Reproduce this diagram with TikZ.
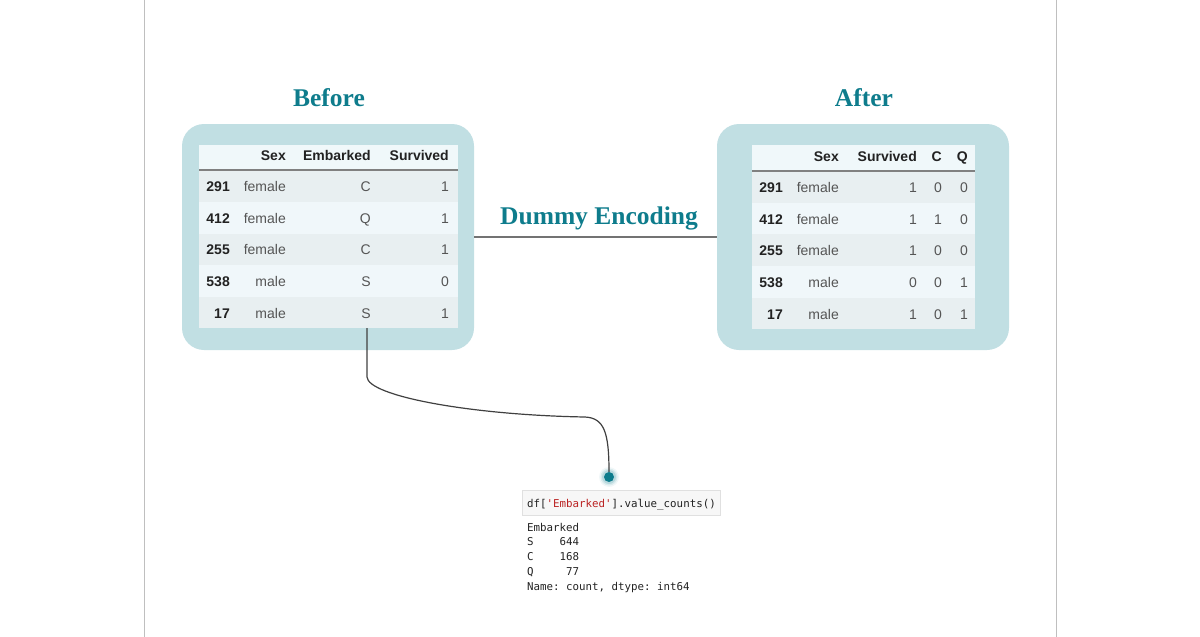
\documentclass[tikz,border=0pt]{standalone}
\usepackage{fontspec}
\setmainfont{Liberation Sans}
\newfontfamily\titlefont{Liberation Serif}
\newfontfamily\codefont{DejaVu Sans Mono}
\definecolor{teal1}{HTML}{0E7C8C}
\definecolor{framec}{HTML}{C1DFE3}
\definecolor{hdrbg}{HTML}{F0F8FA}
\definecolor{rowA}{HTML}{E8EFF1}
\definecolor{rowB}{HTML}{F0F7FA}
\definecolor{txtdark}{HTML}{222222}
\definecolor{txtgray}{HTML}{555555}
\definecolor{codered}{HTML}{BA2121}
\definecolor{codebg}{HTML}{F7F7F7}
\definecolor{codeborder}{HTML}{E0E0E0}
\tikzset{
  frame/.style={fill=framec, rounded corners=22pt, inner sep=0pt},
  title/.style={text=teal1, font=\titlefont\bfseries\fontsize{25.5}{28}\selectfont},
  hdr/.style={anchor=mid east, inner sep=0pt, text=txtdark, font=\bfseries\fontsize{14}{16}\selectfont},
  idx/.style={anchor=mid east, inner sep=0pt, text=txtdark, font=\bfseries\fontsize{14}{16}\selectfont},
  val/.style={anchor=mid east, inner sep=0pt, text=txtgray, font=\fontsize{14}{16}\selectfont},
  code/.style={anchor=base west, inner sep=0pt, text=txtdark, font=\codefont\fontsize{10.8}{13}\selectfont\frenchspacing},
  conn/.style={draw=black!75, line width=1.2pt},
  link/.style={draw=black!55, line width=2pt},
}
\begin{document}
\begin{tikzpicture}[x=1pt,y=-1pt]
\useasboundingbox (0,0) rectangle (1200,637);
% side rules
\draw[black!25, line width=1.5pt] (144.5,0) -- (144.5,637);
\draw[black!25, line width=1.5pt] (1056.5,0) -- (1056.5,637);

% titles
\node[title] (tBefore) at (329,97.5) {Before};
\node[title] (tAfter) at (864,97.5) {After};

% frames
\node[frame, minimum width=292pt, minimum height=226pt] (Lf) at (328,237) {};
\node[frame, minimum width=292pt, minimum height=226pt] (Rf) at (863,237) {};

% connector between frames
\draw[link] (Lf.east) -- (Rf.west);
\node[title] (tDummy) at (599,218.5) {Dummy Encoding};

% ---------- left table ----------
\fill[hdrbg] (199,145) rectangle (458,170);
\fill[rowA] (199,170) rectangle (458,202);
\fill[rowB] (199,202) rectangle (458,234);
\fill[rowA] (199,234) rectangle (458,265);
\fill[rowB] (199,265) rectangle (458,297);
\fill[rowA] (199,297) rectangle (458,328);
\draw[black!50, line width=2pt] (199,170) -- (458,170);
\node[hdr] (Lh1) at (286,158) {Sex};
\node[hdr] (Lh2) at (371,158) {Embarked};
\node[hdr] (Lh3) at (449,158) {Survived};
\foreach \y/\i/\s/\e/\v [count=\r] in {189/291/female/C/1, 220.5/412/female/Q/1, 252/255/female/C/1, 284/538/male/S/0, 315.5/17/male/S/1}{
  \node[idx] (Li\r) at (230,\y) {\i};
  \node[val] (Ls\r) at (286,\y) {\s};
  \node[val] (Le\r) at (371,\y) {\e};
  \node[val] (Lv\r) at (449,\y) {\v};
}

% ---------- right table ----------
\fill[hdrbg] (752,145) rectangle (975,171);
\fill[rowA] (752,171) rectangle (975,203);
\fill[rowB] (752,203) rectangle (975,234);
\fill[rowA] (752,234) rectangle (975,266);
\fill[rowB] (752,266) rectangle (975,298);
\fill[rowA] (752,298) rectangle (975,329);
\draw[black!50, line width=2pt] (752,171) -- (975,171);
\node[hdr] (Rh1) at (839,159) {Sex};
\node[hdr] (Rh2) at (917,159) {Survived};
\node[hdr] (Rh3) at (942,159) {C};
\node[hdr] (Rh4) at (968,159) {Q};
\foreach \y/\i/\s/\v/\c/\q [count=\r] in {190/291/female/1/0/0, 221.5/412/female/1/1/0, 253/255/female/1/0/0, 285/538/male/0/0/1, 316.5/17/male/1/0/1}{
  \node[idx] (Ri\r) at (783,\y) {\i};
  \node[val] (Rs\r) at (839,\y) {\s};
  \node[val] (Rv\r) at (917,\y) {\v};
  \node[val] (Rc\r) at (942,\y) {\c};
  \node[val] (Rq\r) at (968,\y) {\q};
}

% ---------- code cell ----------
\node[draw=codeborder, fill=codebg, line width=0.8pt, minimum width=198pt, minimum height=25pt, inner sep=0pt] (codebox) at (621,502.5) {};
\node[code] (codeline) at (527,507) {df[\textcolor{codered}{'Embarked'}].value\_counts()};
\node[code] (o1) at (527,531) {Embarked};
\node[code] (o2) at (527,545.75) {S\ \ \ \ 644};
\node[code] (o3) at (527,560.5) {C\ \ \ \ 168};
\node[code] (o4) at (527,575.25) {Q\ \ \ \ \ 77};
\node[code] (o5) at (527,590) {Name: count, dtype: int64};

% dot with glow
\foreach \rr/\op in {10/0.06, 8.5/0.10, 7/0.16}{
  \fill[teal1, opacity=\op] (609,477) circle (\rr pt);
}
\node[circle, fill=teal1, minimum size=10pt, inner sep=0pt] (dot) at (609,477) {};

% curved connector
\coordinate (cstart) at (367,328);
\draw[conn] (cstart) -- (367,377) .. controls (368,396) and (470,415) .. (585,417)
  .. controls (604,418) and (609,432) .. (dot.north);
\end{tikzpicture}
\end{document}
